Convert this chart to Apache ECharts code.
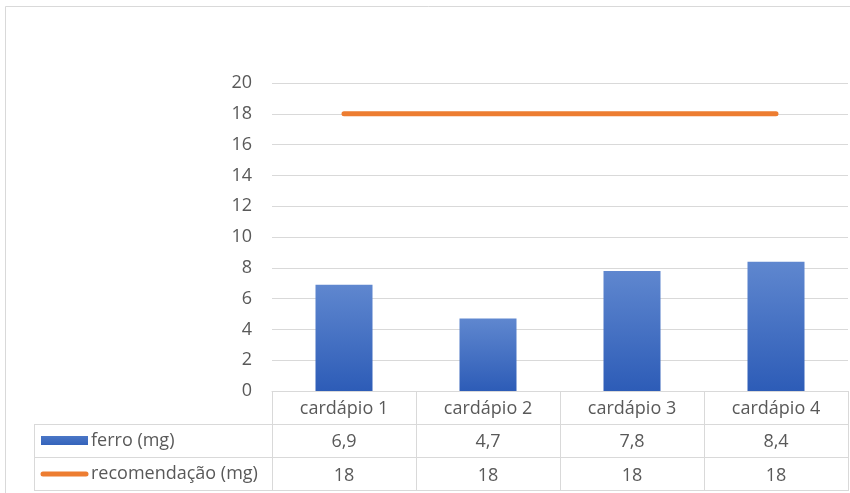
<!DOCTYPE html>
<html>
<head>
<meta charset="utf-8">
<script src="https://cdn.jsdelivr.net/npm/echarts@6/dist/echarts.min.js"></script>
<style>
html,body{margin:0;padding:0;background:#fff;}
#chart{width:850px;height:493px;}
</style>
</head>
<body>
<div id="chart"></div>
<script>
const categories = ['cardápio 1', 'cardápio 2', 'cardápio 3', 'cardápio 4'];
const ferroName = 'ferro (mg)';
const ferro = [6.9, 4.7, 7.8, 8.4];
const recName = 'recomendação (mg)';
const recomendacao = [18, 18, 18, 18];
const yTicks = [0, 2, 4, 6, 8, 10, 12, 14, 16, 18, 20];

const fmt = v => String(v).replace('.', ',');
const TXT = '#595959';
const LINE = '#d9d9d9';
const BLUE_TOP = '#5f87cf';
const BLUE_BOT = '#2d5cb7';
const ORANGE = '#ed7d31';
const FONT = '"Open Sans", "Noto Sans", sans-serif';

const chart = echarts.init(document.getElementById('chart'), null, {renderer: 'canvas'});
chart.setOption({
  animation: false,
  backgroundColor: '#fff',
  textStyle: {fontFamily: FONT},
  grid: {left: 272, right: 2, top: 83, bottom: 102, containLabel: false},
  xAxis: {
    type: 'category',
    data: categories,
    boundaryGap: true,
    axisLine: {show: true, lineStyle: {color: LINE, width: 1}},
    axisTick: {show: true, length: 100, lineStyle: {color: LINE, width: 1}},
    axisLabel: {
      margin: 1,
      color: TXT,
      fontSize: 18,
      fontFamily: FONT,
      lineHeight: 33.5,
      interval: 0,
      formatter: (v, i) => v + '\n' + fmt(ferro[i]) + '\n' + fmt(recomendacao[i])
    },
    splitLine: {show: false}
  },
  yAxis: {
    type: 'value',
    min: yTicks[0],
    max: yTicks[yTicks.length - 1],
    interval: 2,
    axisLine: {show: false},
    axisTick: {show: false},
    axisLabel: {color: TXT, fontSize: 18, fontFamily: FONT, margin: 20},
    splitLine: {lineStyle: {color: LINE, width: 1}}
  },
  series: [
    {
      name: ferroName,
      type: 'bar',
      data: ferro,
      barWidth: 57,
      itemStyle: {
        color: new echarts.graphic.LinearGradient(0, 0, 0, 1, [
          {offset: 0, color: BLUE_TOP},
          {offset: 1, color: BLUE_BOT}
        ])
      }
    },
    {
      name: recName,
      type: 'line',
      data: recomendacao,
      symbol: 'none',
      lineStyle: {color: ORANGE, width: 5, cap: 'round'},
      itemStyle: {color: ORANGE}
    }
  ],
  graphic: [
    {type: 'rect', shape: {x: 5.5, y: 6.5, width: 900, height: 600}, style: {fill: null, stroke: LINE, lineWidth: 1}, silent: true},
    {type: 'line', shape: {x1: 34, y1: 424.5, x2: 848, y2: 424.5}, style: {stroke: LINE, lineWidth: 1}},
    {type: 'line', shape: {x1: 34, y1: 457.5, x2: 848, y2: 457.5}, style: {stroke: LINE, lineWidth: 1}},
    {type: 'line', shape: {x1: 34, y1: 490.5, x2: 848, y2: 490.5}, style: {stroke: LINE, lineWidth: 1}},
    {type: 'line', shape: {x1: 34.5, y1: 424, x2: 34.5, y2: 491}, style: {stroke: LINE, lineWidth: 1}},
    // legend keys in the data table
    {type: 'rect', shape: {x: 41, y: 436, width: 47, height: 9},
      style: {fill: new echarts.graphic.LinearGradient(0, 0, 0, 1, [
        {offset: 0, color: '#4a76c6'}, {offset: 1, color: '#3463bb'}])}},
    {type: 'text', x: 91, y: 441, style: {text: ferroName, fill: TXT, font: '18px ' + FONT, verticalAlign: 'middle', align: 'left'}},
    {type: 'line', shape: {x1: 43, y1: 474, x2: 86, y2: 474}, style: {stroke: ORANGE, lineWidth: 5, lineCap: 'round'}},
    {type: 'text', x: 91, y: 474, style: {text: recName, fill: TXT, font: '18px ' + FONT, verticalAlign: 'middle', align: 'left'}}
  ]
});
</script>
</body>
</html>
